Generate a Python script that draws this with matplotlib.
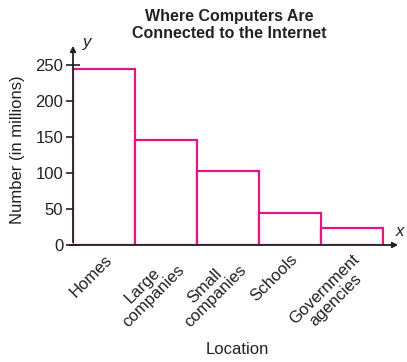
import matplotlib.pyplot as plt
import numpy as np

plt.rcParams['font.family'] = ['Liberation Sans', 'DejaVu Sans']

# data
locations = ['Homes', 'Large\ncompanies', 'Small\ncompanies', 'Schools', 'Government\nagencies']
counts = [244, 146, 103, 45, 23]
yticks = [0, 50, 100, 150, 200, 250]

pink = '#E5157F'

fig = plt.figure(figsize=(4.07, 3.62), dpi=100)
ax = fig.add_axes([73 / 407, 1 - 245 / 362, 328 / 407, 202 / 362])

x = np.arange(len(locations))
ax.bar(x + 0.5, counts, width=1.0, facecolor='white', edgecolor=pink, linewidth=1.6, zorder=2)

ax.set_xlim(0, 5.29)
ax.set_ylim(0, 280)

for s in ax.spines.values():
    s.set_visible(False)

# axes drawn as arrows
ax.annotate('', xy=(1.0, 0), xytext=(-0.02, 0), xycoords='axes fraction',
            arrowprops=dict(arrowstyle='-|>', color='#222222', lw=1.3, mutation_scale=8), zorder=3)
ax.annotate('', xy=(0, 1.0), xytext=(0, 0), xycoords='axes fraction',
            arrowprops=dict(arrowstyle='-|>', color='#222222', lw=1.3, mutation_scale=8), zorder=3)

ax.set_yticks(yticks)
ax.tick_params(axis='y', direction='inout', length=10, width=1.2, color='#222222',
               labelsize=12, labelcolor='#222222', pad=2)
ax.set_xticks(x + 0.5)
ax.set_xticklabels(locations, rotation=45, ha='right', rotation_mode='anchor',
                   multialignment='center', fontsize=12, color='#222222', linespacing=1.0)
ax.tick_params(axis='x', length=0, pad=5)

ax.text(0.03, 1.0, 'y', transform=ax.transAxes, fontsize=12, style='italic', color='#222222', va='center')
ax.text(0.995, 0.045, 'x', transform=ax.transAxes, fontsize=12, style='italic', color='#222222', ha='center')

fig.text(229 / 407, 1 - 25 / 362, 'Where Computers Are\nConnected to the Internet', ha='center', va='center',
         fontsize=11.5, fontweight='bold', color='#222222', linespacing=1.15)
fig.text(18 / 407, 1 - 150 / 362, 'Number (in millions)', rotation=90, ha='center', va='center',
         fontsize=12, color='#222222')
fig.text(237 / 407, 1 - 349 / 362, 'Location', ha='center', va='center', fontsize=12, color='#222222')

fig.savefig('out.png', dpi=100)
